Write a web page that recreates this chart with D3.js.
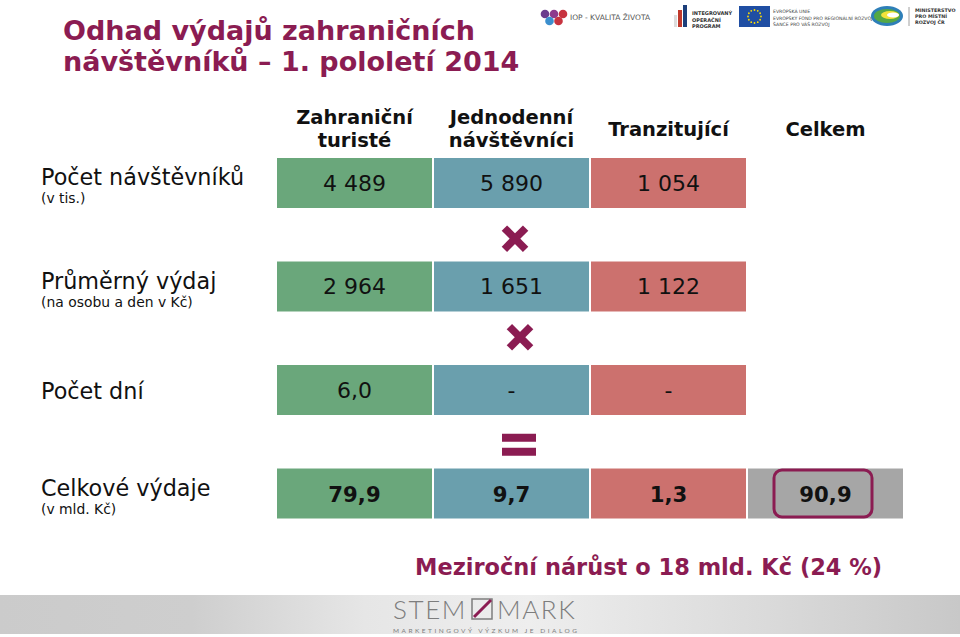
<!DOCTYPE html>
<html><head><meta charset="utf-8">
<script src="https://cdn.jsdelivr.net/npm/d3@7"></script>
<style>
html,body{margin:0;padding:0;background:#fff;}
svg{display:block;font-family:"DejaVu Sans",Verdana,sans-serif;}
</style></head>
<body>
<script>
// ---- data ----
const title = ["Odhad výdajů zahraničních", "návštěvníků – 1. pololetí 2014"];
const columns = ["Zahraniční turisté", "Jednodenní návštěvníci", "Tranzitující", "Celkem"];
const columnHeaders = [["Zahraniční", "turisté"], ["Jednodenní", "návštěvníci"], ["Tranzitující"], ["Celkem"]];
const rowKeys = ["visitors", "spend", "days", "total"];
const rowLabels = ["Počet návštěvníků", "Průměrný výdaj", "Počet dní", "Celkové výdaje"];
const rowSubLabels = ["(v tis.)", "(na osobu a den v Kč)", "", "(v mld. Kč)"];
const visitors = ["4 489", "5 890", "1 054", null];
const spend = ["2 964", "1 651", "1 122", null];
const days = ["6,0", "-", "-", null];
const total = ["79,9", "9,7", "1,3", "90,9"];
const operators = ["×", "×", "="];
const footnote = "Meziroční nárůst o 18 mld. Kč (24 %)";

const W = 960, H = 637;
const maroon = "#8b1c52";
const colColors = ["#6aa77b", "#6a9fad", "#cc716e", "#a6a6a6"];

const svg = d3.select("body").append("svg").attr("width", W).attr("height", H);

// title
svg.append("g").selectAll("text").data(title).join("text")
  .attr("x", 63).attr("y", (d, i) => 40 + i * 31)
  .attr("fill", maroon).attr("font-weight", "bold").attr("font-size", 27)
  .text(d => d);

// scales
const x = d3.scaleBand().domain(columns).range([277, 903]).paddingInner(2 / 157);
const y = d3.scaleBand().domain(rowKeys).range([158, 518.5]).paddingInner(0.517);
const rows = [visitors, spend, days, total];

// headers
const hdr = svg.append("g");
columns.forEach((c, i) => {
  const lines = columnHeaders[i];
  const cx = x(c) + x.bandwidth() / 2;
  const baseY = lines.length === 2 ? 124 : 136;
  lines.forEach((l, j) => {
    hdr.append("text").attr("x", cx).attr("y", baseY + j * 23)
      .attr("text-anchor", "middle").attr("font-weight", "bold").attr("font-size", 19.5)
      .attr("fill", "#111").text(l);
  });
});

// row labels
const rl = svg.append("g");
rowKeys.forEach((k, i) => {
  const yy = y(k);
  const hasSub = rowSubLabels[i] !== "";
  rl.append("text").attr("x", 41).attr("y", hasSub ? yy + 27 : yy + 34)
    .attr("font-size", 22.3).attr("fill", "#111").text(rowLabels[i]);
  if (hasSub) rl.append("text").attr("x", 41).attr("y", yy + 45)
    .attr("font-size", 13.9).attr("fill", "#111").text(rowSubLabels[i]);
});

// cells
const cells = svg.append("g");
rows.forEach((vals, ri) => {
  const k = rowKeys[ri];
  vals.forEach((v, ci) => {
    if (v === null) return;
    const c = columns[ci];
    cells.append("rect").attr("x", x(c)).attr("y", y(k))
      .attr("width", x.bandwidth()).attr("height", y.bandwidth())
      .attr("fill", colColors[ci]);
    cells.append("text").attr("x", x(c) + x.bandwidth() / 2).attr("y", y(k) + y.bandwidth() / 2 + 8)
      .attr("text-anchor", "middle").attr("font-size", k === "total" ? 21.2 : 22)
      .attr("font-weight", k === "total" ? "bold" : "normal")
      .attr("fill", "#111").text(v);
  });
});

// highlight box for total
const tc = columns[3];
svg.append("rect").attr("x", x(tc) + 26).attr("y", y("total") + 1.5)
  .attr("width", 98).attr("height", y.bandwidth() - 3).attr("rx", 8)
  .attr("fill", "none").attr("stroke", maroon).attr("stroke-width", 3);

// operators between rows
const opX = [515, 520, 519];
operators.forEach((op, i) => {
  const cy = (y(rowKeys[i]) + y.bandwidth() + y(rowKeys[i + 1])) / 2 + (i === 0 ? 4 : i === 1 ? -1 : 0);
  const g = svg.append("g").attr("transform", `translate(${opX[i]},${cy})`);
  if (op === "×") {
    [45, -45].forEach(a => g.append("rect").attr("x", -15).attr("y", -3.8).attr("width", 30).attr("height", 7.6)
      .attr("fill", maroon).attr("transform", `rotate(${a})`));
  } else {
    g.append("rect").attr("x", -17).attr("y", -8).attr("width", 34).attr("height", 8).attr("fill", maroon);
    g.append("rect").attr("x", -17).attr("y", 6).attr("width", 34).attr("height", 8).attr("fill", maroon);
  }
});

// footnote
svg.append("text").attr("x", 415).attr("y", 575).attr("fill", maroon)
  .attr("font-weight", "bold").attr("font-size", 22.5).text(footnote);

// footer band
const defs = svg.append("defs");
const grad = defs.append("linearGradient").attr("id", "fg").attr("x1", "0").attr("x2", "1");
[[0, "#cbcbcb"], [0.2, "#cecece"], [0.38, "#e6e6e6"], [0.55, "#eeeeee"], [0.8, "#dadada"], [1, "#c8c8c8"]]
  .forEach(([o, c]) => grad.append("stop").attr("offset", o).attr("stop-color", c));
svg.append("rect").attr("x", 0).attr("y", 595).attr("width", W).attr("height", 39).attr("fill", "url(#fg)");

// STEM/MARK logo
const lg = svg.append("g").attr("fill", "#7d7d7d").attr("font-family", "Lato, sans-serif").attr("font-weight", 300);
lg.append("text").attr("x", 393).attr("y", 619).attr("font-size", 26).attr("letter-spacing", 1.6).text("STEM");
lg.append("rect").attr("x", 472).attr("y", 599).attr("width", 20).attr("height", 20).attr("fill", "none")
  .attr("stroke", "#7d7d7d").attr("stroke-width", 1.5);
lg.append("line").attr("x1", 474).attr("y1", 617).attr("x2", 491).attr("y2", 600).attr("stroke", maroon).attr("stroke-width", 3);
lg.append("text").attr("x", 497).attr("y", 619).attr("font-size", 26).attr("letter-spacing", 1.6).text("MARK");
lg.append("text").attr("x", 393).attr("y", 633).attr("font-size", 6.5).attr("font-weight", 400).attr("letter-spacing", 2.5).text("MARKETINGOVÝ VÝZKUM JE DIALOG");

// top right logos
const tl = svg.append("g");
const hexes = [[545, 14, "#6b3c8e"], [554, 14, "#8e3b8c"], [563, 14, "#c7333f"], [549.5, 21, "#3b8fce"], [558.5, 21, "#c7333f"]];
hexes.forEach(([hx, hy, c]) => tl.append("circle").attr("cx", hx).attr("cy", hy).attr("r", 4.3).attr("fill", c));
tl.append("text").attr("x", 570).attr("y", 20).attr("font-size", 7.5).attr("fill", "#555").text("IOP - KVALITA ŽIVOTA");
tl.append("rect").attr("x", 674).attr("y", 15).attr("width", 3).attr("height", 12).attr("fill", "#ddd");
tl.append("rect").attr("x", 678).attr("y", 10).attr("width", 4).attr("height", 17).attr("fill", "#c0392b");
tl.append("rect").attr("x", 683).attr("y", 5).attr("width", 4).attr("height", 22).attr("fill", "#1d3f7a");
["INTEGROVANÝ", "OPERAČNÍ", "PROGRAM"].forEach((t, i) => tl.append("text").attr("x", 692).attr("y", 15 + i * 6.5)
  .attr("font-size", 5).attr("font-weight", "bold").attr("fill", "#333").text(t));
tl.append("rect").attr("x", 739).attr("y", 6).attr("width", 31).attr("height", 21).attr("fill", "#1f4ea3");
d3.range(12).forEach(i => {
  const a = i / 12 * 2 * Math.PI;
  tl.append("circle").attr("cx", 754.5 + 6.5 * Math.cos(a)).attr("cy", 16.5 + 6.5 * Math.sin(a)).attr("r", 0.9).attr("fill", "#ffdd00");
});
["EVROPSKÁ UNIE", "EVROPSKÝ FOND PRO REGIONÁLNÍ ROZVOJ", "ŠANCE PRO VÁŠ ROZVOJ"].forEach((t, i) => tl.append("text")
  .attr("x", 773).attr("y", 13 + i * 6.5).attr("font-size", 4.6).attr("fill", "#444").text(t));
tl.append("ellipse").attr("cx", 887).attr("cy", 16).attr("rx", 16).attr("ry", 10).attr("fill", "#2e7fb8");
tl.append("ellipse").attr("cx", 887).attr("cy", 16).attr("rx", 13).attr("ry", 7).attr("fill", "#55a845");
tl.append("ellipse").attr("cx", 890).attr("cy", 15).attr("rx", 9).attr("ry", 4).attr("fill", "#f2e23a");
tl.append("ellipse").attr("cx", 893).attr("cy", 15).attr("rx", 6).attr("ry", 2.5).attr("fill", "#fff");
tl.append("line").attr("x1", 909).attr("y1", 7).attr("x2", 909).attr("y2", 26).attr("stroke", "#888").attr("stroke-width", 0.8);
["MINISTERSTVO", "PRO MÍSTNÍ", "ROZVOJ ČR"].forEach((t, i) => tl.append("text").attr("x", 915).attr("y", 12 + i * 6)
  .attr("font-size", 4.8).attr("font-weight", "bold").attr("fill", "#333").text(t));
</script>
</body></html>
